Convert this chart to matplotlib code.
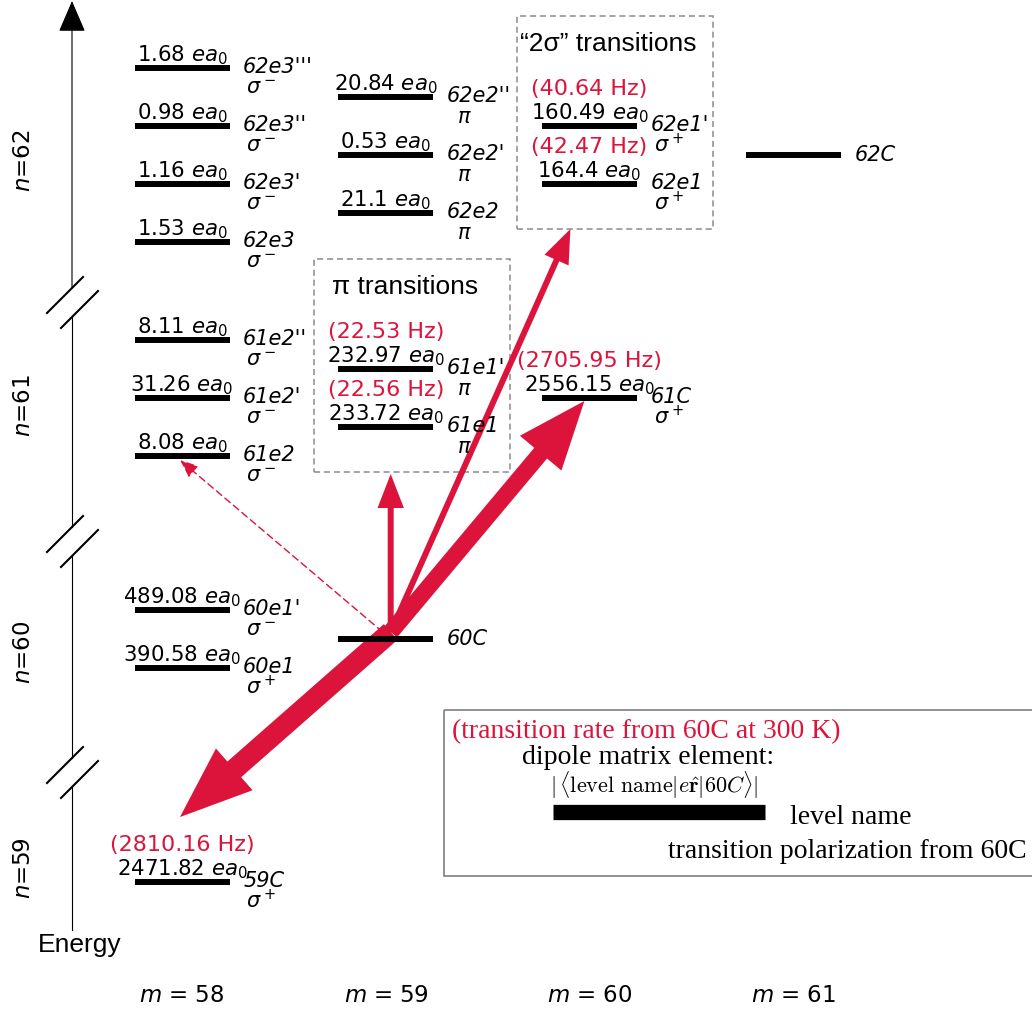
import matplotlib
matplotlib.use('Agg')
import matplotlib.pyplot as plt
from matplotlib.patches import FancyArrowPatch, ArrowStyle, Rectangle

# energy levels reachable from 60C
names = ["62e3'''", "62e3''", "62e3'", "62e3", "62e2''", "62e2'", "62e2", "62e1'", "62e1", "62C",
         "61e2''", "61e2'", "61e2", "61e1'", "61e1", "61C",
         "60e1'", "60e1", "60C", "59C"]
m_vals = [58, 58, 58, 58, 59, 59, 59, 60, 60, 61,
          58, 58, 58, 59, 59, 60,
          58, 58, 59, 58]
# schematic energy (arbitrary units, 60C = 0)
energy = [19.69, 17.69, 15.69, 13.69, 18.69, 16.69, 14.69, 17.69, 15.69, 16.69,
          10.31, 8.31, 6.31, 9.31, 7.31, 8.31,
          1.0, -1.0, 0.0, -8.38]
dipole = [1.68, 0.98, 1.16, 1.53, 20.84, 0.53, 21.1, 160.49, 164.4, None,
          8.11, 31.26, 8.08, 232.97, 233.72, 2556.15,
          489.08, 390.58, None, 2471.82]
rate = [None, None, None, None, None, None, None, 40.64, 42.47, None,
        None, None, None, 22.53, 22.56, 2705.95,
        None, None, None, 2810.16]
pol = [r'$\sigma^-$'] * 4 + [r'$\pi$'] * 3 + [r'$\sigma^+$'] * 2 + [None] + \
      [r'$\sigma^-$'] * 3 + [r'$\pi$'] * 2 + [r'$\sigma^+$'] + \
      [r'$\sigma^-$', r'$\sigma^+$', None, r'$\sigma^+$']

m_labels = [58, 59, 60, 61]
n_labels = ['62', '61', '60', '59']

red = '#DC143C'

fig = plt.figure(figsize=(10.32, 10.09), dpi=100)
XS, X0, YS, Y0 = 203.7, 182, 29.0, 639  # px per m, px of m=58, px per energy unit, px of E=0
ax = fig.add_axes([0, 0, 1, 1])
ax.set_xlim(58 - X0 / XS, 58 + (1032 - X0) / XS)
ax.set_ylim(-(1009 - Y0) / YS, Y0 / YS)
ax.axis('off')
pax = fig.add_axes([0, 0, 1, 1])
pax.set_xlim(0, 1032)
pax.set_ylim(1009, 0)
pax.axis('off')
pax.patch.set_visible(False)

lv = {n: (m, e) for n, m, e in zip(names, m_vals, energy)}
hw = 47.5 / XS

# level bars
ax.hlines(energy, [m - hw for m in m_vals], [m + hw for m in m_vals],
          colors='k', lw=4.3, capstyle='butt', zorder=3)

for n, m, e, d, r, p in zip(names, m_vals, energy, dipole, rate, pol):
    if p is None:
        ax.annotate(n, (m, e), xytext=(44, 0), textcoords='offset points',
                    fontsize=15, style='italic', va='center', ha='left', zorder=4)
    else:
        ax.annotate(n, (m, e), xytext=(44, -3.6), textcoords='offset points',
                    fontsize=15, style='italic', va='baseline', ha='left', zorder=4)
        ax.annotate(p, (m, e), xytext=(57, -18.7), textcoords='offset points',
                    fontsize=15, va='baseline', ha='center', zorder=4)
    if d is not None:
        ax.annotate(f'{d:g} $ea_0$', (m, e), xytext=(0, 5), textcoords='offset points',
                    fontsize=15.3, va='baseline', ha='center', zorder=4)
    if r is not None:
        ax.annotate(f'({r:.2f} Hz)', (m, e), xytext=(0, 22.5), textcoords='offset points',
                    fontsize=16, va='baseline', ha='center', color=red, zorder=4)

# dashed grouping boxes
boxes = {}
for title, (top_lv, bot_lv) in [('π transitions', ("61e1'", '61e1')),
                                ('“2σ” transitions', ("62e1'", '62e1'))]:
    m = lv[top_lv][0]
    top = lv[top_lv][1] + 110 / YS
    bot = lv[bot_lv][1] - 45 / YS
    left = m - 72 / XS
    right = m + 124 / XS
    boxes[title] = (left, right, bot, top)
    ax.add_patch(Rectangle((left, bot), right - left, top - bot, fill=False,
                           ec='#8c8c8c', lw=1.1, ls=(0, (4, 2.5)), zorder=1))
    ax.text((left + right) / 2 - 7 / XS, top - 28 / YS, title, family='Liberation Sans',
            fontsize=19, ha='center', va='center')

# transition arrows from 60C
src = (lv['60C'][0] + 5 / XS, lv['60C'][1] + 7 / YS)
pi_box = boxes['π transitions']
s2_box = boxes['“2σ” transitions']
arrows = [
    ((lv['59C'][0] - 2 / XS, lv['59C'][1] + 65 / YS), 15, 40, 52),
    ((lv['61C'][0] - 5 / XS, lv['61C'][1] - 3 / YS), 12, 39, 49),
    ((src[0], pi_box[2] - 2 / YS), 4.3, 19, 24.5),
    ((lv['62e1'][0] - 19 / XS, s2_box[2]), 4.3, 19, 24.5),
]
for tip, tw, hwid, hl in arrows:
    ax.add_patch(FancyArrowPatch(src, tip, arrowstyle=ArrowStyle('simple', head_length=hl,
                                 head_width=hwid, tail_width=tw), mutation_scale=1,
                                 shrinkA=0, shrinkB=0, fc=red, ec='none', zorder=2))
ax.add_patch(FancyArrowPatch((lv['60C'][0] - 3 / XS, src[1]),
                             (lv['61e2'][0] - 2 / XS, lv['61e2'][1] - 4 / YS),
                             arrowstyle=ArrowStyle('-|>', head_length=11, head_width=4.5),
                             mutation_scale=1, shrinkA=0, shrinkB=0, color=red,
                             lw=1.0, ls=(0, (5, 3)), zorder=2))

# broken energy axis
pax.add_patch(FancyArrowPatch((72, 288), (72, 1), arrowstyle=ArrowStyle('-|>', head_length=20,
                              head_width=8.6), mutation_scale=1, shrinkA=0, shrinkB=0,
                              color='k', lw=0.8))
for y0, y1 in [(317, 527), (556, 758), (787, 930)]:
    pax.plot([72, 72], [y0, y1], color='k', lw=0.8)
for b in [313, 552, 783]:
    pax.plot([47, 83], [b, b - 36], color='k', lw=1.5)
    pax.plot([61, 98], [b + 15, b - 22], color='k', lw=1.5)
for lab, y in zip(n_labels, [161, 406, 652, 868]):
    pax.text(24, y, f'$n$={lab}', rotation=90, ha='center', va='center', fontsize=16.5)
pax.text(80, 945, 'Energy', family='Liberation Sans', fontsize=19, ha='center', va='center')

for m in m_labels:
    ax.text(m, 1 - 995 / 1009, f'$m$ = {m}', transform=ax.get_xaxis_transform(),
            ha='center', va='center', fontsize=16.5)

# key box
pax.add_patch(Rectangle((444, 710), 620, 166, fill=False, ec='#7f7f7f', lw=1.2))
pax.text(452, 732, '(transition rate from 60C at 300 K)', family='Liberation Serif',
         fontsize=20, color=red, ha='left', va='center')
pax.text(522, 758, 'dipole matrix element:', family='Liberation Serif',
         fontsize=20, ha='left', va='center')
pax.text(550, 785, r'$|\,\langle \mathrm{level\ name}|e\hat{\mathbf{r}}|60C\rangle|$',
         math_fontfamily='cm', fontsize=16, ha='left', va='center')
pax.plot([553, 765], [812, 812], color='k', lw=11, solid_capstyle='butt')
pax.text(790, 818, 'level name', family='Liberation Serif', fontsize=20, ha='left', va='center')
pax.text(668, 852, 'transition polarization from 60C', family='Liberation Serif',
         fontsize=20, ha='left', va='center')

fig.savefig('out.png', dpi=100)
